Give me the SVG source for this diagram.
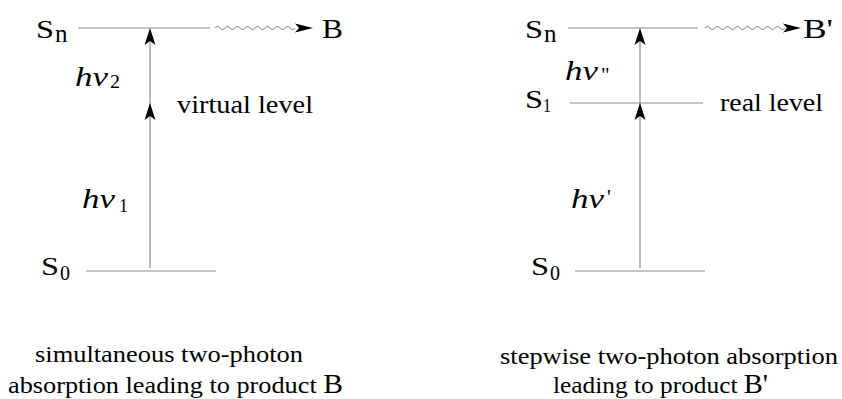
<svg xmlns="http://www.w3.org/2000/svg" width="842" height="399" viewBox="0 0 842 399">
<style>
.lvl{stroke:#8c8c8c;stroke-width:1.2;fill:none}
.wave{stroke:#8c8c8c;stroke-width:1.1;fill:none}
text{font-family:'Liberation Serif','Times New Roman',serif;fill:#000}
.hv{font-style:italic}
</style>
<defs>
<path id="ah" d="M0,0 L5.5,17 L0,13 L-5.5,17 Z" fill="#000"/>
<path id="wh" d="M0,0 L-18,-4.5 L-14,0 L-18,4.5 Z" fill="#000"/>
</defs>
<rect width="842" height="399" fill="#fff"/>

<g id="left">
  <g id="left-Sn">
    <line class="lvl" x1="78" y1="28" x2="210" y2="28"/>
    <text font-size="26" x="36" y="38" textLength="18" lengthAdjust="spacingAndGlyphs">S</text>
    <text font-size="25" x="55" y="42">n</text>
  </g>
  <g id="left-S0">
    <line class="lvl" x1="86" y1="271" x2="216" y2="271"/>
    <text font-size="26" x="41" y="275" textLength="18" lengthAdjust="spacingAndGlyphs">S</text>
    <text font-size="20" x="60" y="280">0</text>
  </g>
  <g id="left-virtual">
    <text font-size="25" x="177" y="113" textLength="136" lengthAdjust="spacingAndGlyphs">virtual level</text>
  </g>
  <g id="left-B">
    <text font-size="27" x="322" y="38" textLength="21" lengthAdjust="spacingAndGlyphs">B</text>
  </g>
  <g id="left-hv2">
    <text class="hv" font-size="27" x="75" y="86" textLength="33" lengthAdjust="spacingAndGlyphs">hν</text>
    <text font-size="19" x="110" y="88" textLength="10" lengthAdjust="spacingAndGlyphs">2</text>
  </g>
  <g id="left-hv1">
    <text class="hv" font-size="27" x="82" y="208" textLength="33" lengthAdjust="spacingAndGlyphs">hν</text>
    <text font-size="19" x="119" y="212" textLength="9" lengthAdjust="spacingAndGlyphs">1</text>
  </g>
  <g id="left-caption">
    <text font-size="24" x="35" y="362" textLength="268" lengthAdjust="spacingAndGlyphs">simultaneous two-photon</text>
    <text font-size="24" x="8" y="393" textLength="335" lengthAdjust="spacingAndGlyphs">absorption leading to product <tspan font-size="27">B</tspan></text>
  </g>
</g>

<g id="right">
  <g id="right-Sn">
    <line class="lvl" x1="568" y1="28" x2="698" y2="28"/>
    <text font-size="26" x="525" y="38" textLength="18" lengthAdjust="spacingAndGlyphs">S</text>
    <text font-size="25" x="544" y="42">n</text>
  </g>
  <g id="right-S1">
    <line class="lvl" x1="570" y1="103" x2="703" y2="103"/>
    <text font-size="26" x="525" y="108" textLength="18" lengthAdjust="spacingAndGlyphs">S</text>
    <text font-size="19" x="543" y="112" textLength="8" lengthAdjust="spacingAndGlyphs">1</text>
    <text font-size="25" x="720" y="111" textLength="103" lengthAdjust="spacingAndGlyphs">real level</text>
  </g>
  <g id="right-S0">
    <line class="lvl" x1="575" y1="271" x2="705" y2="271"/>
    <text font-size="26" x="531" y="275" textLength="18" lengthAdjust="spacingAndGlyphs">S</text>
    <text font-size="20" x="550" y="280">0</text>
  </g>
  <g id="right-B">
    <text font-size="27" x="803" y="38" textLength="30" lengthAdjust="spacingAndGlyphs">B'</text>
  </g>
  <g id="right-hv2">
    <text class="hv" font-size="27" x="565" y="80" textLength="33" lengthAdjust="spacingAndGlyphs">hν</text>
    <text font-size="21" x="601" y="82">"</text>
  </g>
  <g id="right-hv1">
    <text class="hv" font-size="27" x="571" y="208" textLength="33" lengthAdjust="spacingAndGlyphs">hν</text>
    <text font-size="21" x="607" y="204">'</text>
  </g>
  <g id="right-caption">
    <text font-size="24" x="500" y="364" textLength="338" lengthAdjust="spacingAndGlyphs">stepwise two-photon absorption</text>
    <text font-size="24" x="553" y="393" textLength="215" lengthAdjust="spacingAndGlyphs">leading to product <tspan font-size="27">B'</tspan></text>
  </g>
</g>

<g id="connectors">
  <line class="lvl" x1="150" y1="268" x2="150" y2="30"/>
  <use href="#ah" x="150" y="28"/>
  <use href="#ah" x="150" y="103"/>
  <path class="wave" d="M215,28 q2.5,-3 5,0 t5,0 t5,0 t5,0 t5,0 t5,0 t5,0 t5,0 t5,0 t5,0 t5,0 t5,0 t5,0 t5,0 t5,0 t5,0"/>
  <use href="#wh" x="313" y="28"/>

  <line class="lvl" x1="640" y1="268" x2="640" y2="30"/>
  <use href="#ah" x="640" y="28"/>
  <use href="#ah" x="640" y="103"/>
  <path class="wave" d="M705,28 q2.5,-3 5,0 t5,0 t5,0 t5,0 t5,0 t5,0 t5,0 t5,0 t5,0 t5,0 t5,0 t5,0 t5,0 t5,0 t5,0 t5,0"/>
  <use href="#wh" x="801" y="28"/>
</g>
</svg>
